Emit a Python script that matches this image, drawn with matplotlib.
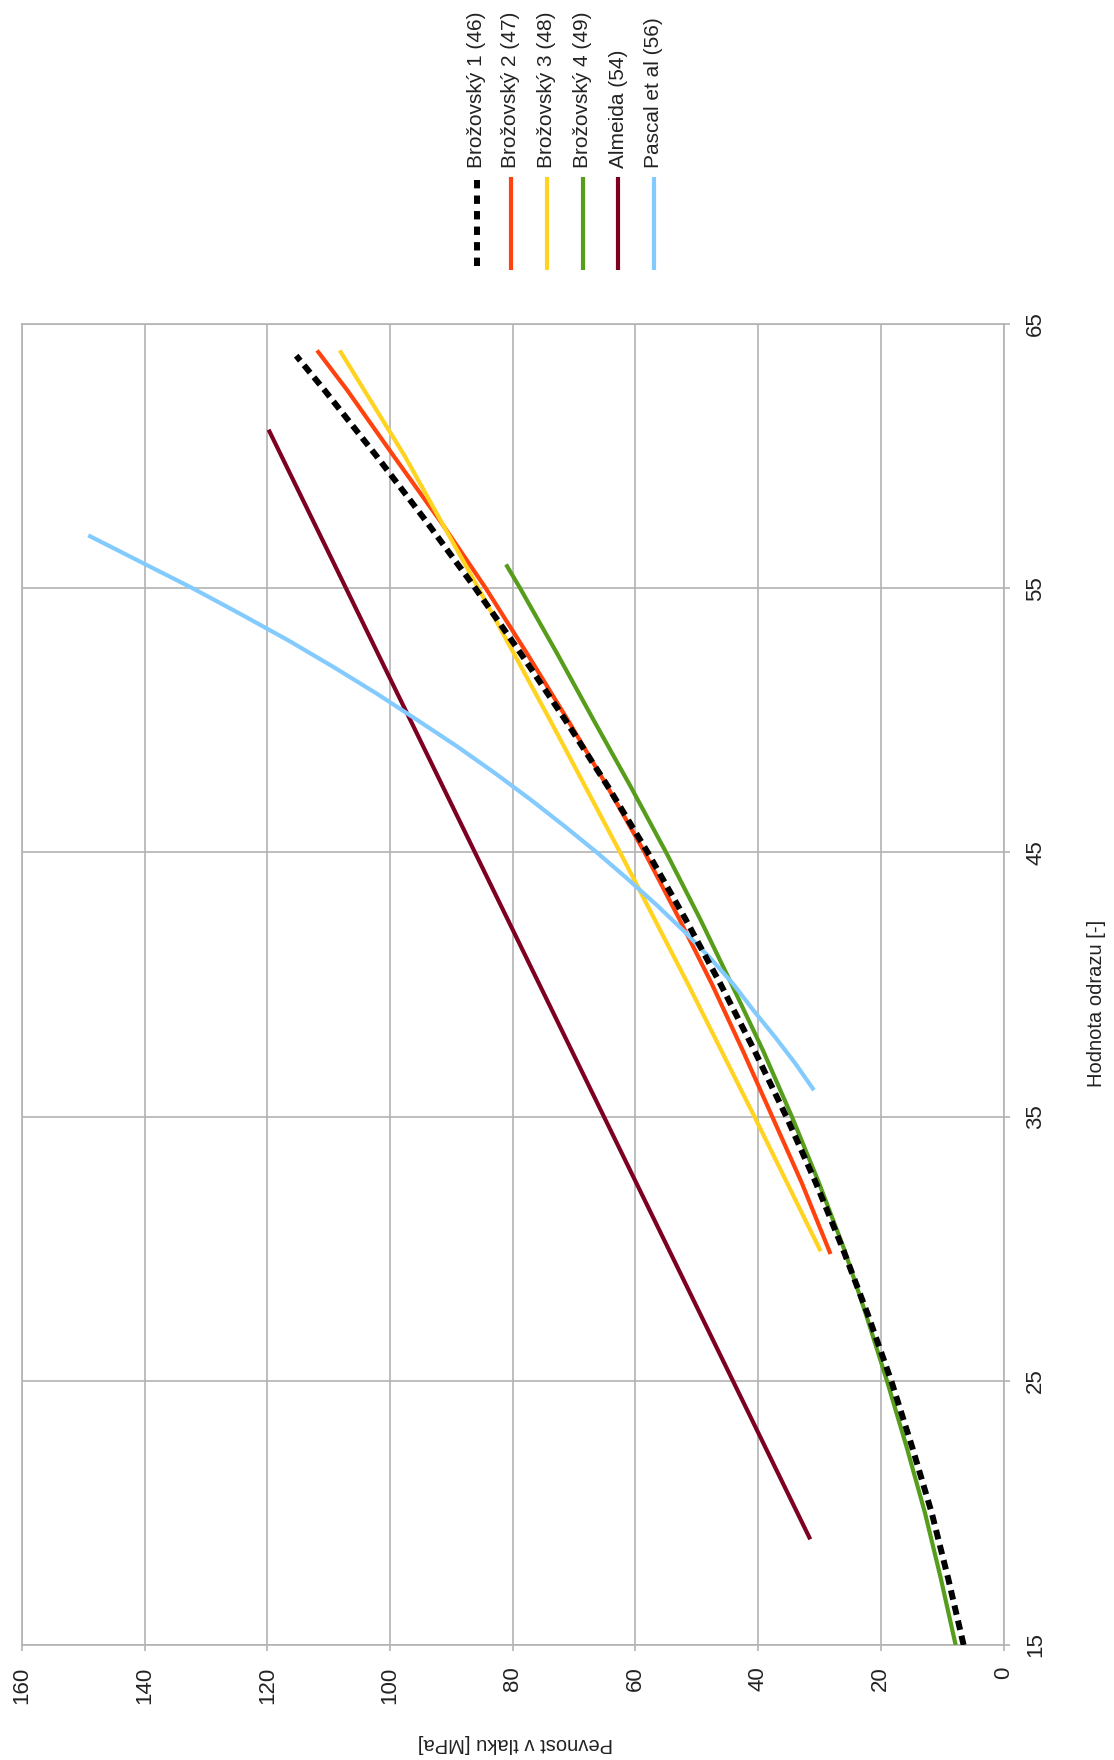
import matplotlib
matplotlib.use("Agg")
import matplotlib.pyplot as plt
from matplotlib.lines import Line2D
from matplotlib import font_manager

# ---------------- data ----------------
labels = ["Brožovský 1 (46)", "Brožovský 2 (47)", "Brožovský 3 (48)",
          "Brožovský 4 (49)", "Almeida (54)", "Pascal et al (56)"]

r_b1 = [15, 17.5, 20, 22.5, 25, 27.5, 30, 32.5, 35, 37.5, 40, 42.5, 45, 47.5,
        50, 52.5, 55, 57.5, 60, 62.5, 63.8]
f_b1 = [6.5, 9.0, 11.7, 14.9, 18.3, 22.1, 26.2, 30.6, 35.4, 40.6, 46.1, 51.9,
        58.0, 64.5, 71.4, 78.6, 86.1, 94.0, 102.2, 110.7, 115.3]

r_b2 = [29.8, 32.5, 35, 37.5, 40, 42.5, 45, 47.5, 50, 52.5, 55, 57.5, 60, 62.5, 64.0]
f_b2 = [28.2, 32.9, 37.7, 42.5, 47.5, 52.9, 58.5, 64.6, 71.0, 77.6, 84.4, 91.7,
        99.4, 107.0, 111.9]

r_b3 = [29.9, 35, 40, 45, 50, 55, 60, 64.0]
f_b3 = [29.8, 40.6, 51.4, 62.5, 73.9, 85.6, 97.6, 108.2]

r_b4 = [15, 17.5, 20, 22.5, 25, 27.5, 30, 32.5, 35, 37.5, 40, 42.5, 45, 47.5,
        50, 52.5, 55, 55.9]
f_b4 = [7.8, 10.2, 12.8, 15.8, 19.0, 22.4, 26.0, 30.1, 34.5, 39.2, 44.3, 49.5,
        55.0, 60.8, 66.8, 72.7, 78.8, 81.1]

r_alm = [19.0, 61.0]
f_alm = [31.5, 119.8]

r_pas = [36, 37, 38, 39, 40, 41, 42, 43, 44, 45, 46, 47, 48, 49, 50, 51, 52,
         53, 54, 55, 56, 57]
f_pas = [30.9, 33.9, 37.2, 40.7, 44.0, 47.8, 52.0, 56.5, 61.3, 66.3, 71.6, 77.1,
         82.9, 89.0, 95.5, 102.1, 109.1, 116.4, 124.2, 132.2, 140.7, 149.2]

x_ticks = [15, 25, 35, 45, 55, 65]                 # Hodnota odrazu
y_ticks = [0, 20, 40, 60, 80, 100, 120, 140, 160]  # Pevnost v tlaku

# ---------------- styling ----------------
avail = {f.name for f in font_manager.fontManager.ttflist}
fam = [f for f in ["Liberation Sans Narrow", "Liberation Sans", "DejaVu Sans"] if f in avail]
plt.rcParams["font.family"] = fam

colors = ["#000000", "#ff420e", "#ffd320", "#579d1c", "#7e0021", "#83caff"]
grid_c = "#b3b3b3"
txt_c = "#222222"
W, H = 1114, 1760

fig = plt.figure(figsize=(W / 100, H / 100), dpi=100)
fig.patch.set_facecolor("white")
ax = fig.add_axes([22 / W, (H - 1645) / H, (1003.5 - 22) / W, (1645 - 324) / H])

# chart is drawn rotated: horizontal = strength (reversed), vertical = rebound value
series = [(r_b1, f_b1), (r_b2, f_b2), (r_b3, f_b3), (r_b4, f_b4), (r_alm, f_alm), (r_pas, f_pas)]
lw = 3.0
for i, (r, f) in enumerate(series):
    if i == 0:
        continue
    ax.plot(f, r, color=colors[i], lw=lw, solid_capstyle="butt",
            solid_joinstyle="round", zorder=3)
ax.plot(f_b1, r_b1, color=colors[0], lw=4.3, dashes=(1.6, 1.0), zorder=5)

ax.set_xlim(160, 0)
ax.set_ylim(15, 65)
ax.set_xticks(y_ticks)
ax.set_yticks(x_ticks)
ax.yaxis.tick_right()
ax.grid(True, color=grid_c, lw=1.2, zorder=0)
for s in ax.spines.values():
    s.set_color(grid_c)
    s.set_linewidth(1.2)
ax.tick_params(axis="both", direction="out", length=4.5, width=1.2, color=grid_c,
               labelsize=16, pad=11, labelcolor=txt_c)
ax.tick_params(axis="x", labelrotation=90)
ax.tick_params(axis="y", labelrotation=90)
for t in ax.get_yticklabels():
    t.set_va("center")

# axis titles
fig.text(1097 / W, 1 - 1003 / H, "Hodnota odrazu [-]", rotation=90,
         ha="center", va="center", fontsize=14.5, color=txt_c)
fig.text(515 / W, 1 - 1743 / H, "Pevnost v tlaku [MPa]", rotation=180,
         ha="center", va="center", fontsize=14.5, color=txt_c)

# legend (rotated)
leg_x = [476.5, 511, 547, 582.5, 618, 653.5]
for i, lab in enumerate(labels):
    x = leg_x[i] / W
    if i == 0:
        ln = Line2D([x, x], [1 - 180 / H, 1 - 270 / H], transform=fig.transFigure,
                    color=colors[i], lw=4.3, dashes=(1.4, 1.2))
    else:
        ln = Line2D([x, x], [1 - 177 / H, 1 - 270 / H], transform=fig.transFigure,
                    color=colors[i], lw=lw, solid_capstyle="butt")
    fig.add_artist(ln)
    fig.text(x, 1 - 168 / H, lab, rotation=90, ha="center", va="bottom",
             fontsize=15, color=txt_c)

fig.savefig("out.png", dpi=100, facecolor="white")
